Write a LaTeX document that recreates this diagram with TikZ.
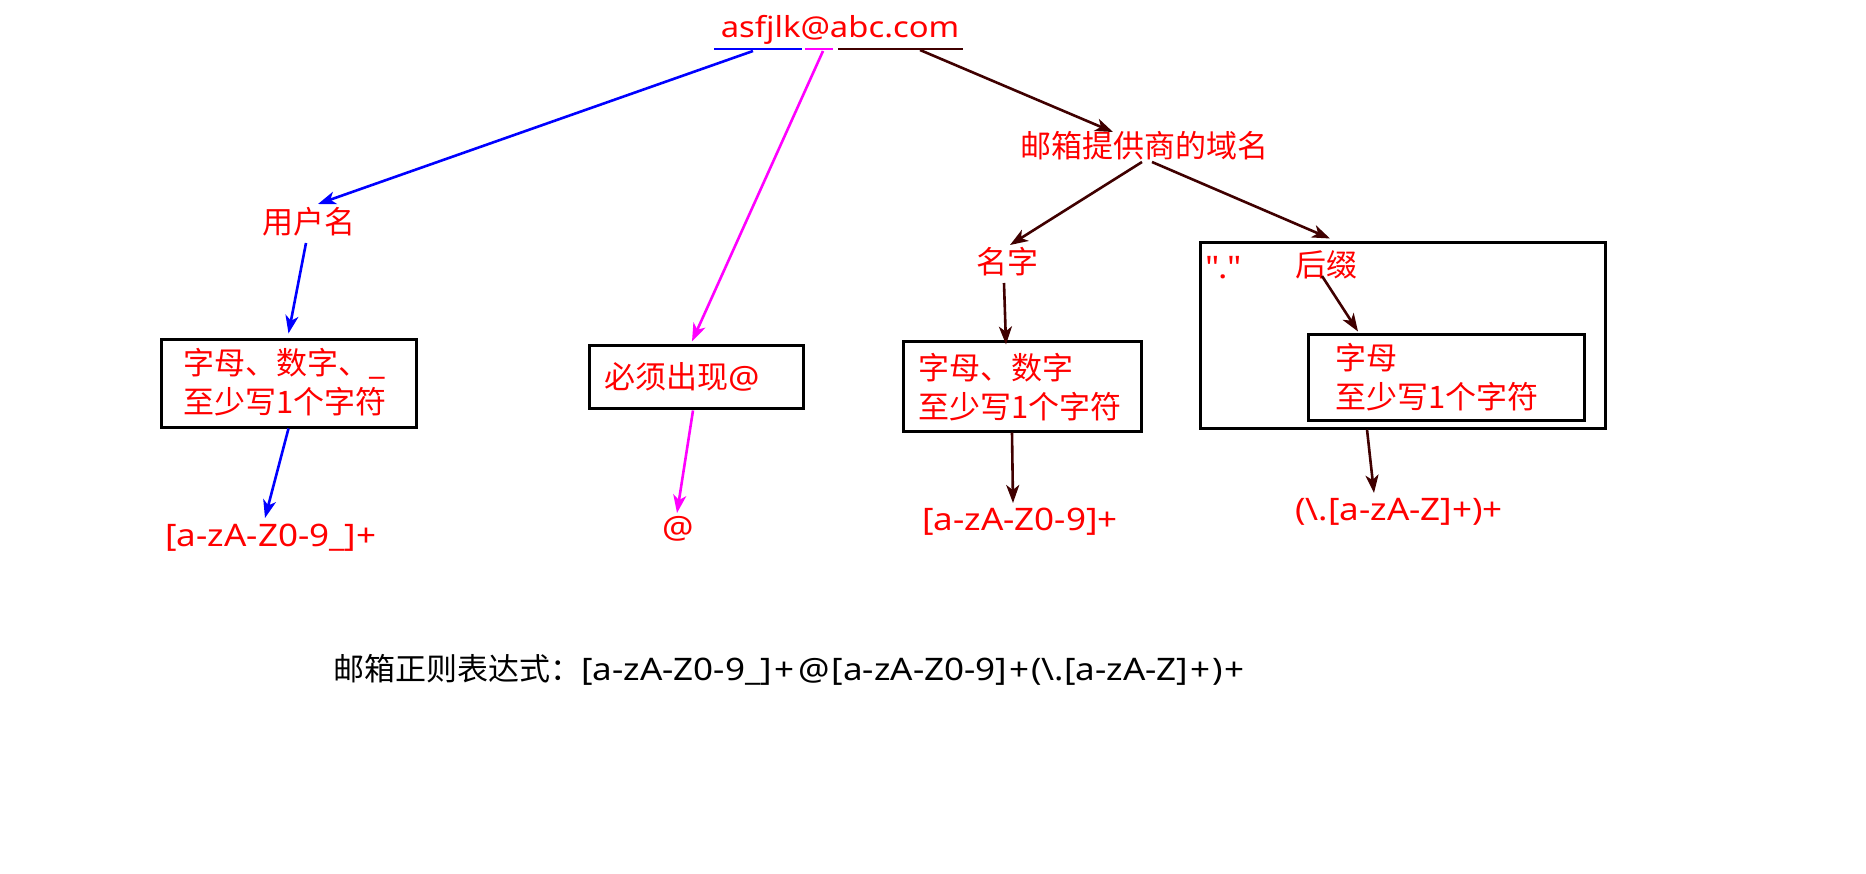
\documentclass[tikz,border=0pt]{standalone}
\usepackage{fontspec}
\setmainfont{Noto Sans}[FakeStretch=1.13]
\newfontfamily\cjk{Noto Sans CJK SC}
\usetikzlibrary{arrows.meta}
\definecolor{darkbr}{HTML}{400000}
\definecolor{mag}{HTML}{FF00FF}
\newcommand\spc[1]{\kern2pt#1\kern2pt}
\begin{document}
\begin{tikzpicture}[x=1pt,y=-1pt,
  lbl/.style={text=red,inner sep=0pt,font=\fontsize{31}{39}\selectfont},
  blk/.style={text=black,inner sep=0pt,font=\fontsize{31}{39}\selectfont},
  frame/.style={draw=black,line width=3pt,inner sep=0pt},
  tip/.style={-{Stealth[length=18pt,width=13pt,inset=5pt]}},
  bline/.style={draw=blue,line width=2.6pt},
  mline/.style={draw=mag,line width=2.6pt},
  dline/.style={draw=darkbr,line width=2.6pt}]
\useasboundingbox[fill=white] (0,0) rectangle (1866,874);

% title
\node[lbl,font=\fontsize{29}{36}\selectfont] (title) at (840,30) {asfjlk@abc.com};
\draw[bline] ([shift={(-126,19)}]title.center) -- ([shift={(-38,19)}]title.center);
\draw[mline] ([shift={(-35,19)}]title.center) -- ([shift={(-7,19)}]title.center);
\draw[dline] ([shift={(-2,19)}]title.center) -- ([shift={(123,19)}]title.center);

% user name branch
\node[lbl] (user) at (309,222) {\cjk 用户名};
\node[frame,minimum width=255,minimum height=87] (box1) at (288.5,383.5) {};
\node[lbl,anchor=west,align=left] (box1t) at (183,382.5) {{\cjk 字母、数字、}\_\\{\cjk 至少写1个字符}};
\node[lbl] (lab1) at (271,538) {[a-zA-Z0-9\_]+};

% @ branch
\node[frame,minimum width=214,minimum height=63] (box2) at (696,377.5) {};
\node[lbl,anchor=west] (box2t) at (604,377) {{\cjk 必须出现}@};
\node[lbl] (at) at (678,529) {@};

% domain branch
\node[lbl] (domain) at (1144,146) {\cjk 邮箱提供商的域名};
\node[lbl] (name) at (1007,262) {\cjk 名字};
\node[frame,minimum width=238,minimum height=89] (box3) at (1022,386.5) {};
\node[lbl,anchor=west,align=left] (box3t) at (918,387) {{\cjk 字母、数字}\\{\cjk 至少写1个字符}};
\node[lbl] (lab3) at (1020,522) {[a-zA-Z0-9]+};

\node[frame,minimum width=405,minimum height=185] (outer) at (1402.5,335.5) {};
\node[lbl] (dot) at (1223,268) {\textquotedbl.\textquotedbl};
\node[lbl] (suffix) at (1326,265) {\cjk 后缀};
\node[frame,minimum width=276,minimum height=85] (inner) at (1446,377.5) {};
\node[lbl,anchor=west,align=left] (innert) at (1335,377) {{\cjk 字母}\\{\cjk 至少写1个字符}};
\node[lbl] (lab4) at (1399,512) {(\textbackslash.[a-zA-Z]+)+};

% bottom formula
\node[blk,anchor=west] (formula) at (333,670) {{\cjk 邮箱正则表达式：}[a-zA-Z0-9\_]\spc{+}\spc{@}[a-zA-Z0-9]\spc{+}(\textbackslash.[a-zA-Z]\spc{+})\spc{+}};

% connectors
\draw[bline,tip] ([shift={(-87,21)}]title.center) -- ([shift={(9,-18)}]user.center);
\draw[bline,tip] ([shift={(-3,21)}]user.center) -- ([shift={(0,-5)}]box1.north);
\draw[bline,tip] (box1.south) -- ([shift={(-6,-20)}]lab1.center);

\draw[mline,tip] ([shift={(-17,21)}]title.center) -- ([shift={(-4,-3)}]box2.north);
\draw[mline,tip] ([shift={(-3,0)}]box2.south) -- ([shift={(-1,-16)}]at.center);

\draw[dline,tip] ([shift={(80,20)}]title.center) -- ([shift={(-31,-14)}]domain.center);
\draw[dline,tip] ([shift={(-2,16)}]domain.center) -- ([shift={(3,-17)}]name.center);
\draw[dline,tip] ([shift={(8,16)}]domain.center) -- ([shift={(-72.5,-3)}]outer.north);
\draw[dline,tip] ([shift={(-3,21)}]name.center) -- ([shift={(-16,4)}]box3.north);
\draw[dline,tip] ([shift={(-10,0)}]box3.south) -- ([shift={(-7,-19)}]lab3.center);
\draw[dline,tip] ([shift={(-4,11)}]suffix.center) -- ([shift={(-88,-2)}]inner.north);
\draw[dline,tip] ([shift={(-35.5,0)}]outer.south) -- ([shift={(-25,-19)}]lab4.center);
\end{tikzpicture}
\end{document}
